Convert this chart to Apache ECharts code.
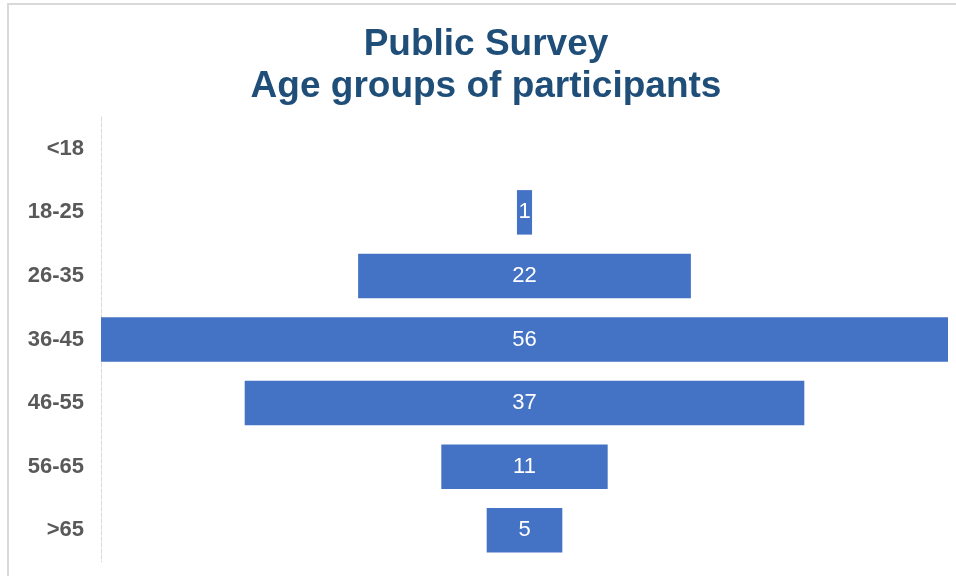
<!DOCTYPE html>
<html>
<head>
<meta charset="utf-8">
<script src="https://cdn.jsdelivr.net/npm/echarts@6/dist/echarts.min.js"></script>
<style>
    html, body { margin: 0; padding: 0; background: #fff; overflow: hidden; }
    #chart { width: 956px; height: 576px; }
    #frame {
        position: absolute; left: 7px; top: 3px; width: 1000px; height: 700px;
        border: 2px solid #d9d9d9; pointer-events: none;
    }
</style>
</head>
<body>
<div id="chart"></div>
<div id="frame"></div>
<script>
    const ageGroups = ['<18', '18-25', '26-35', '36-45', '46-55', '56-65', '>65'];
    const participants = [0, 1, 22, 56, 37, 11, 5];

    document.addEventListener('DOMContentLoaded', function () {
        const chart = echarts.init(document.getElementById('chart'));
        const maxValue = Math.max.apply(null, participants);
        // invisible spacer so each bar sits centred
        const spacer = participants.map(v => (maxValue - v) / 2);

        const option = {
            animation: false,
            title: {
                text: 'Public Survey\nAge groups of participants',
                left: 481,
                textAlign: 'center',
                top: 19,
                textStyle: {
                    fontFamily: 'Liberation Sans',
                    fontSize: 37,
                    fontWeight: 'bold',
                    color: '#1f4e79',
                    lineHeight: 42
                }
            },
            grid: {
                left: 101,
                right: 8,
                top: 117,
                bottom: 14
            },
            xAxis: {
                type: 'value',
                min: 0,
                max: maxValue,
                show: false
            },
            yAxis: {
                type: 'category',
                inverse: true,
                data: ageGroups,
                axisLine: {
                    lineStyle: { color: '#d9d9d9', type: 'dashed', width: 1 }
                },
                axisTick: { show: false },
                axisLabel: {
                    margin: 17,
                    fontFamily: 'Liberation Sans',
                    fontSize: 22,
                    fontWeight: 'bold',
                    color: '#595959'
                }
            },
            series: [
                {
                    type: 'bar',
                    stack: 'total',
                    data: spacer,
                    itemStyle: { color: 'transparent' },
                    silent: true
                },
                {
                    name: 'Participants',
                    type: 'bar',
                    stack: 'total',
                    barWidth: '70%',
                    data: participants,
                    itemStyle: { color: '#4472c4' },
                    label: {
                        show: true,
                        position: 'inside',
                        color: '#ffffff',
                        fontFamily: 'Liberation Sans',
                        fontSize: 22,
                        formatter: p => (p.value ? p.value : '')
                    }
                }
            ]
        };
        chart.setOption(option);
    });
</script>
</body>
</html>
